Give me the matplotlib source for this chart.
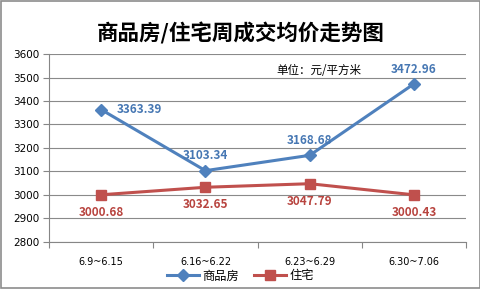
"""商品房/住宅周成交均价走势图"""

import matplotlib
matplotlib.use("Agg")
import matplotlib.pyplot as plt

plt.rcParams["font.family"] = ["Noto Sans CJK SC", "DejaVu Sans"]

weeks = ["6.9~6.15", "6.16~6.22", "6.23~6.29", "6.30~7.06"]
commercial = [3363.39, 3103.34, 3168.68, 3472.96]
residential = [3000.68, 3032.65, 3047.79, 3000.43]

BLUE = "#4F81BD"
RED = "#C0504D"
BLUE_TXT = "#4677b3"
RED_TXT = "#b8443f"

fig = plt.figure(figsize=(4.81, 2.89), dpi=100)
fig.patch.set_facecolor("white")
# outer frame
fig.patches.append(plt.Rectangle((0.002, 0.003), 0.995, 0.993, transform=fig.transFigure,
                                 fill=False, edgecolor="#8c8c8c", linewidth=1.2))

ax = fig.add_axes([0.102, 0.163, 0.867, 0.65])
x = list(range(len(weeks)))

ax.plot(x, commercial, color=BLUE, linewidth=2.2, marker="D", markersize=6.5,
        label="商品房", zorder=3)
ax.plot(x, residential, color=RED, linewidth=2.2, marker="s", markersize=7,
        label="住宅", zorder=3)

ax.set_ylim(2800, 3600)
ax.set_yticks(range(2800, 3601, 100))
ax.set_xlim(-0.5, len(weeks) - 0.5)
ax.set_xticks([i - 0.5 for i in range(len(weeks) + 1)])
ax.set_xticklabels([])
ax.set_xticks(x, minor=True)
ax.set_xticklabels(weeks, minor=True, family="DejaVu Sans")
for lbl in ax.get_yticklabels():
    lbl.set_family("DejaVu Sans")
ax.tick_params(axis="x", which="minor", length=0, pad=11, labelsize=7)
ax.tick_params(axis="x", which="major", length=4, color="#868686", direction="out")
ax.tick_params(axis="y", length=4, color="#868686", direction="out", labelsize=7.5, pad=3)

ax.grid(axis="y", color="#8a8a8a", linewidth=0.8)
ax.set_axisbelow(True)
for side in ["top", "right"]:
    ax.spines[side].set_visible(False)
for side in ["left", "bottom"]:
    ax.spines[side].set_color("#868686")

# data labels
blue_offsets = [(11, 0, "left", "center"), (0, 6, "center", "bottom"),
                (0, 6, "center", "bottom"), (0, 6, "center", "bottom")]
for xi, v, (dx, dy, ha, va) in zip(x, commercial, blue_offsets):
    ax.annotate(f"{v:.2f}", (xi, v), xytext=(dx, dy), textcoords="offset points",
                ha=ha, va=va, color=BLUE_TXT, fontsize=8.5, fontweight="bold")
for xi, v in zip(x, residential):
    ax.annotate(f"{v:.2f}", (xi, v), xytext=(0, -8), textcoords="offset points",
                ha="center", va="top", color=RED_TXT, fontsize=8.5, fontweight="bold")

ax.text(0.546, 0.912, "单位：元/平方米", transform=ax.transAxes, fontsize=8.3,
        ha="left", va="center")

fig.text(0.5, 0.885, "商品房/住宅周成交均价走势图", ha="center", va="center",
         fontsize=15.5, fontweight="bold")

fig.legend(loc="center", bbox_to_anchor=(0.5, 0.045), ncol=2, frameon=False,
           fontsize=8.8, handlelength=2.6, columnspacing=1.2, handletextpad=0.3)

plt.savefig("out.png", dpi=100)
plt.close()
